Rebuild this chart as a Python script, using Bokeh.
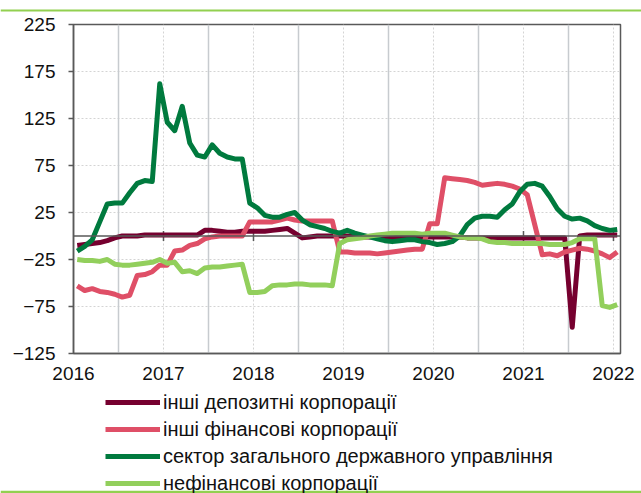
import numpy as np
import pandas as pd
from bokeh.plotting import figure
from bokeh.layouts import column
from bokeh.models import (Range1d, FixedTicker, Span, Legend, LegendItem, Grid)
from bokeh.embed import file_html
from bokeh.resources import INLINE

# ---------------- data ----------------
months = pd.period_range("2016-01", "2022-01", freq="M")
year_ticks = [2016, 2017, 2018, 2019, 2020, 2021, 2022]
half_years = [2016.5, 2017.5, 2018.5, 2019.5, 2020.5, 2021.5]
y_ticks = [-125, -75, -25, 25, 75, 125, 175, 225]

name_dep = "інші депозитні корпорації"
name_fin = "інші фінансові корпорації"
name_gov = "сектор загального державного управління"
name_nfc = "нефінансові корпорації"

dep_vals = [-10, -9, -8, -7, -5, -2, 0, 0, 0, 1,
            1, 1, 1, 1, 1, 1, 1, 6, 6, 5,
            4, 4, 5, 5, 5, 5, 6, 7, 8, 3,
            -2, -1, 0, 0, 0, 0, 0, -1, -1, -1,
            -1, -2, -2, -1, -1, -1, -1, -1, -1, -1,
            -1, -1, -2, -2, -2, -2, -2, -2, -2, -2,
            -2, -2, -2, -2, -2, -2, -97, 0, 1, 1,
            1, 1, 1]

fin_vals = [-53, -58, -56, -59, -60, -62, -65, -63, -42, -41,
            -38, -31, -31, -16, -15, -10, -8, -3, -1, 0,
            0, 0, 0, 15, 15, 15, 15, 17, 19, 17,
            16, 16, 16, 16, 16, -17, -17, -18, -18, -18,
            -19, -18, -17, -16, -15, -14, -14, 13, 13, 62,
            61, 60, 59, 57, 54, 55, 56, 55, 53, 50,
            44, 12, -20, -19, -21, -17, -15, -13, -14, -16,
            -19, -23, -17]

gov_vals = [-16, -11, -4, 15, 34, 35, 35, 46, 56, 59,
            58, 162, 121, 112, 138, 99, 86, 84, 97, 88,
            84, 82, 82, 35, 30, 22, 20, 20, 23, 25,
            17, 12, 10, 8, 5, 3, 6, 3, 1, -1,
            -3, -5, -6, -5, -4, -4, -6, -7, -9, -8,
            -6, 0, 12, 19, 21, 21, 20, 28, 34, 47,
            55, 56, 53, 42, 29, 21, 18, 19, 16, 11,
            8, 6, 7]

nfc_vals = [-25, -26, -26, -27, -25, -30, -31, -31, -30, -29,
            -28, -25, -29, -28, -38, -37, -40, -34, -33, -33,
            -32, -31, -30, -60, -60, -59, -53, -52, -52, -51,
            -51, -52, -52, -52, -53, -8, -4, -3, -2, 0,
            1, 2, 3, 3, 3, 3, 2, 3, 3, 3,
            1, -1, -2, -2, -3, -6, -7, -7, -8, -8,
            -8, -8, -8, -9, -9, -9, -7, -3, -3, -3,
            -74, -76, -73]

# mid-month positions on a decimal-year axis
x = np.array([m.year + (m.month - 0.5) / 12.0 for m in months])

# ---------------- styling ----------------
FONT = "Liberation Sans"
C_DEP = "#76002f"
C_FIN = "#df4f67"
C_GOV = "#007a3e"
C_NFC = "#92cf5c"
RULE = "#92d050"
AX = "#595959"
W = 641


def blank_fig(h):
    f = figure(width=W, height=h, output_backend="svg", toolbar_location=None,
               x_range=Range1d(0, W), y_range=Range1d(0, h),
               x_axis_type=None, y_axis_type=None, min_border=0)
    f.frame_align = False
    f.outline_line_color = None
    f.xgrid.visible = False
    f.ygrid.visible = False
    f.background_fill_color = "white"
    f.border_fill_color = "white"
    return f


# top decorative rule
top = blank_fig(12)
top.add_layout(Span(location=2, dimension="width", line_color=RULE, line_width=2))

# main chart
p = figure(width=W, height=378, output_backend="svg", toolbar_location=None,
           x_range=Range1d(2016, 2022.078), y_range=Range1d(-125, 225),
           min_border_left=73, min_border_right=21, min_border_top=12,
           min_border_bottom=37)
p.frame_align = False
p.background_fill_color = "white"
p.border_fill_color = "white"
p.outline_line_color = AX
p.outline_line_width = 1.5

p.xgrid.ticker = FixedTicker(ticks=year_ticks)
p.xgrid.grid_line_color = "#d4d4d4"
p.xgrid.grid_line_dash = "2 2"
p.xgrid.grid_line_width = 1
p.ygrid.ticker = FixedTicker(ticks=y_ticks)
p.ygrid.grid_line_color = "#d4d4d4"
p.ygrid.grid_line_dash = "2 2"
p.ygrid.grid_line_width = 1
p.add_layout(Grid(dimension=0, ticker=FixedTicker(ticks=half_years),
                  grid_line_color="#c7cbcf", grid_line_width=1.5))

p.yaxis.ticker = FixedTicker(ticks=y_ticks)
p.yaxis.major_tick_out = 5
p.yaxis.major_tick_in = 0
p.yaxis.minor_tick_line_color = None
p.yaxis.axis_line_color = AX
p.yaxis.axis_line_width = 1.5
p.yaxis.major_tick_line_color = AX
p.yaxis.major_tick_line_width = 1.5
p.yaxis.major_label_standoff = 13
p.yaxis.major_label_text_font = FONT
p.yaxis.major_label_text_font_size = "19px"
p.yaxis.major_label_text_color = "#111111"

p.xaxis.ticker = FixedTicker(ticks=year_ticks)
p.xaxis.major_tick_out = 0
p.xaxis.major_tick_in = 0
p.xaxis.minor_tick_line_color = None
p.xaxis.axis_line_color = AX
p.xaxis.axis_line_width = 1.5
p.xaxis.major_label_standoff = 13
p.xaxis.major_label_text_font = FONT
p.xaxis.major_label_text_font_size = "19px"
p.xaxis.major_label_text_color = "#111111"

p.add_layout(Span(location=0, dimension="width", line_color=AX, line_width=1.5))
p.scatter(x=year_ticks[1:], y=[0] * (len(year_ticks) - 1), marker="dash",
          angle=np.pi / 2, size=10, line_color=AX, line_width=1.5)

lw = 5
series = [(name_dep, dep_vals, C_DEP), (name_fin, fin_vals, C_FIN),
          (name_gov, gov_vals, C_GOV), (name_nfc, nfc_vals, C_NFC)]
for _, vals, col in series:
    p.line(x, vals, line_color=col, line_width=lw, line_join="round")

# legend panel (swatch renderers hold one off-view point each)
leg = blank_fig(103)
items = []
for name, _, col in series:
    r = leg.line(x=[-50], y=[-50], line_color=col, line_width=lw)
    items.append(LegendItem(label=name, renderers=[r]))
legend = Legend(items=items, location=(105, -1.5), orientation="vertical",
                glyph_width=55, glyph_height=18, label_height=18,
                spacing=4, padding=0, margin=0, label_standoff=3,
                label_text_font=FONT, label_text_font_size="20px",
                label_text_color="#111111",
                border_line_color=None, background_fill_alpha=0)
leg.add_layout(legend, "center")
leg.add_layout(Span(location=1.5, dimension="width", line_color=RULE, line_width=2.5))

layout = column(top, p, leg, spacing=0)
open("out.html", "w").write(file_html(layout, INLINE))
